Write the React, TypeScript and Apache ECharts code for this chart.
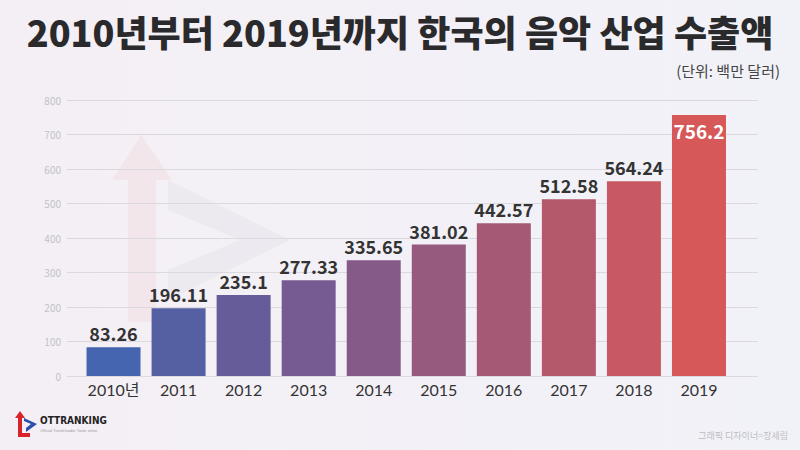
import React, { useEffect, useRef } from "react";
import * as echarts from "echarts";

const categories = ["2010년", "2011", "2012", "2013", "2014", "2015", "2016", "2017", "2018", "2019"];
const values = [83.26, 196.11, 235.1, 277.33, 335.65, 381.02, 442.57, 512.58, 564.24, 756.2];
const barColors = ["#4565b0", "#5560a3", "#665c9a", "#765b92", "#865a88", "#955a7e", "#a65974", "#b3596b", "#c85963", "#d65858"];
const yTicks = [0, 100, 200, 300, 400, 500, 600, 700, 800];

const TITLE = "2010년부터 2019년까지 한국의 음악 산업 수출액";
const UNIT = "(단위: 백만 달러)";
const CREDIT = "그래픽 디자이너=장세림";
const FONT = "'Noto Sans CJK KR', 'Noto Sans', sans-serif";

export default function App() {
  const ref = useRef<HTMLDivElement>(null);
  useEffect(() => {
    const chart = echarts.init(ref.current!, null, { renderer: "svg" });
    const last = values.length - 1;
    chart.setOption({
      animation: false,
      backgroundColor: {
        type: "linear", x: 0, y: 0, x2: 1, y2: 0,
        colorStops: [{ offset: 0, color: "#f4eff5" }, { offset: 1, color: "#f1f2f8" }],
      },
      textStyle: { fontFamily: FONT },
      graphic: [
        // watermark
        {
          type: "polygon", z: 0, silent: true,
          shape: { points: [[141, 135], [172, 180], [156, 180], [156, 322], [128, 322], [128, 180], [112, 180]] },
          style: { fill: "rgba(240,190,195,0.2)" },
        },
        {
          type: "polygon", z: 0, silent: true,
          shape: { points: [[168, 180], [290, 240], [168, 300], [168, 270], [240, 240], [168, 210]] },
          style: { fill: "rgba(190,190,200,0.12)" },
        },
        // title
        {
          type: "text", left: "center", top: 13,
          style: { text: TITLE, fontSize: 36, fontWeight: 900, fontFamily: FONT, fill: "#2a2a2c" },
        },
        {
          type: "text", right: 20, top: 63,
          style: { text: UNIT, fontSize: 15, fontFamily: FONT, fill: "#444" },
        },
        // logo
        {
          type: "polygon",
          shape: { points: [[20, 411], [25, 418], [22, 418], [22, 433], [30, 433], [30, 437], [18, 437], [18, 418], [15, 418]] },
          style: { fill: "#d8232a" },
        },
        {
          type: "polygon",
          shape: { points: [[24, 418], [37, 424], [26, 432], [26, 428], [31, 424], [24, 421]] },
          style: { fill: "#2b4fa8" },
        },
        {
          type: "text", left: 40, top: 415,
          style: { text: "OTTRANKING", fontSize: 10, fontWeight: "bold", fontFamily: "'Liberation Sans Narrow', 'DejaVu Sans Condensed', sans-serif", fill: "#222" },
        },
        {
          type: "text", left: 40, top: 428,
          style: { text: "Official Trend leader Taste setter", fontSize: 4, fontFamily: "sans-serif", fill: "#999" },
        },
        {
          type: "text", right: 12, top: 431,
          style: { text: CREDIT, fontSize: 9, fontFamily: FONT, fill: "#bdbdc3" },
        },
      ],
      grid: [
        { left: 81, right: 68.5, top: 100, bottom: 74 },
        { left: 67, right: 42, top: 100, bottom: 74 },
      ],
      xAxis: [
        {
          type: "category", gridIndex: 0, data: categories,
          axisLine: { show: false }, axisTick: { show: false },
          axisLabel: { interval: 0, color: "#333", fontSize: 16, margin: 5, fontFamily: "Lato, 'Noto Sans CJK KR', sans-serif" },
        },
        { type: "category", gridIndex: 1, data: categories, show: false },
      ],
      yAxis: [
        { type: "value", gridIndex: 0, min: 0, max: 800, interval: 100, show: false, splitLine: { show: false } },
        {
          type: "value", gridIndex: 1, min: 0, max: 800, interval: 100,
          axisLine: { show: false }, axisTick: { show: false },
          axisLabel: {
            color: "#c4c0c8", fontSize: 10, margin: 6, fontFamily: FONT,
            formatter: (v: number) => (yTicks.includes(v) ? String(v) : ""),
          },
          splitLine: { lineStyle: { color: "#dcd8e0", width: 1 } },
        },
      ],
      series: [
        {
          type: "bar", xAxisIndex: 0, yAxisIndex: 0, z: 3,
          barWidth: 54,
          data: values.map((v, i) => ({
            value: v,
            itemStyle: { color: barColors[i] },
            label: i === last
              ? { show: true, position: "insideTop", distance: 6, color: "#fff", fontSize: 19, fontWeight: "bold" }
              : { show: true, position: "top", distance: 5, color: "#333", fontSize: 18, fontWeight: "bold" },
          })),
          label: { fontFamily: FONT, formatter: (p: any) => String(p.value) },
        },
      ],
    });
    return () => chart.dispose();
  }, []);
  return <div ref={ref} style={{ width: 800, height: 450, position: "fixed", left: 0, top: 0 }} />;
}
